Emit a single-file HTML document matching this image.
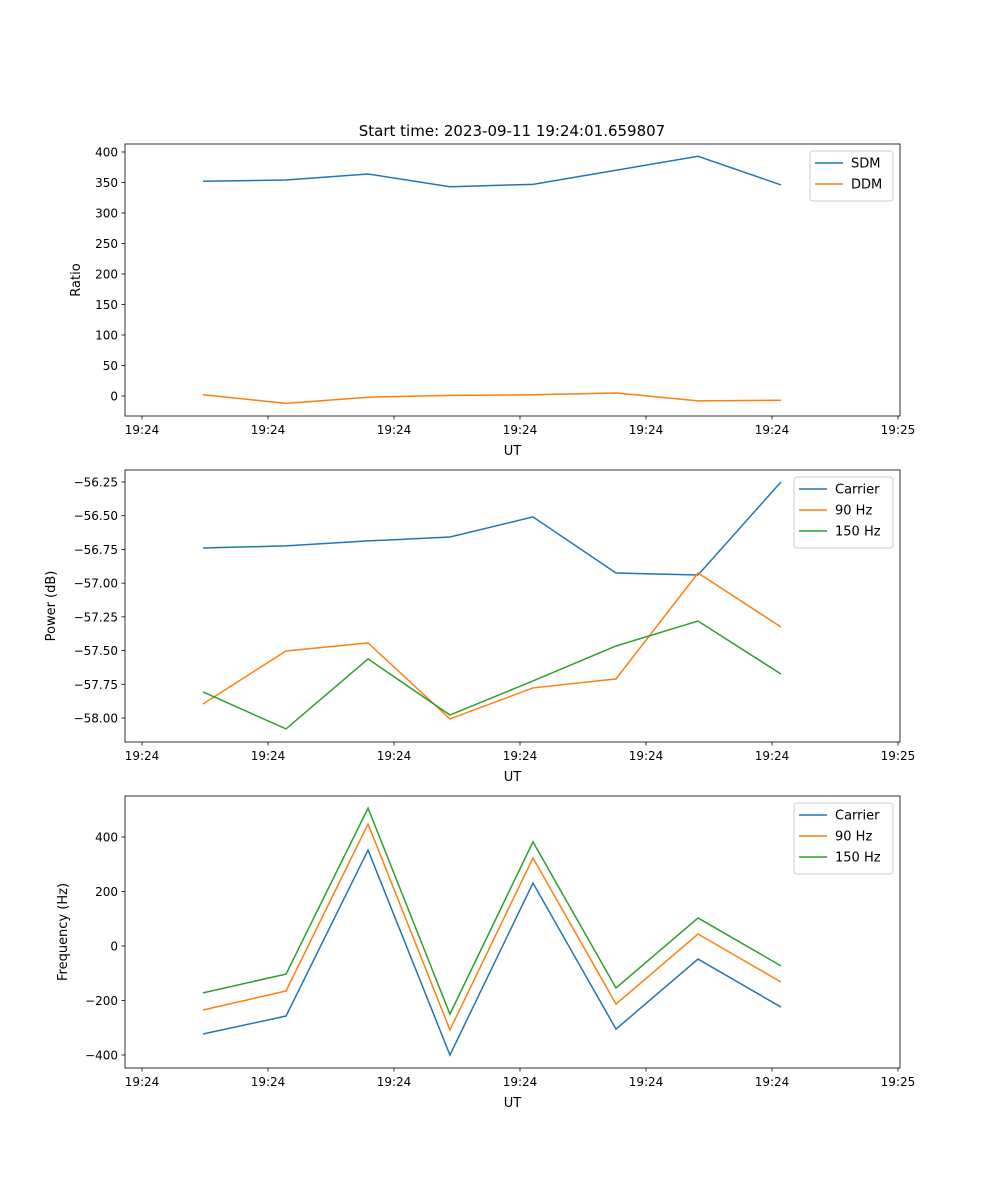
<!DOCTYPE html>
<html><head><meta charset="utf-8"><style>
body{margin:0;background:#fff}
svg{display:block;font-family:"DejaVu Sans","Liberation Sans",sans-serif}
</style></head><body>
<svg id="fig" width="1000" height="1200"></svg>
<script>
const times=[4.84,11.43,17.94,24.44,31.03,37.62,44.13,50.71];
const xTicks=[0,10,20,30,40,50,60];
const xTickLabels=["19:24","19:24","19:24","19:24","19:24","19:24","19:25"];
const sdm=[352,354,364,343,347,370,393,346];
const ddm=[2,-12,-2,1,2,5,-8,-7];
const pCarrier=[-56.739,-56.724,-56.687,-56.658,-56.509,-56.925,-56.940,-56.25];
const p90=[-57.896,-57.503,-57.443,-58.007,-57.777,-57.710,-56.925,-57.325];
const p150=[-57.807,-58.081,-57.562,-57.978,-57.725,-57.466,-57.281,-57.674];
const fCarrier=[-323,-257,352,-400,231,-305,-48,-224];
const f90=[-235,-165,448,-308,323,-213,44,-132];
const f150=[-172,-103,506,-250,382,-154,103,-73];
const ratioTicks=[0,50,100,150,200,250,300,350,400];
const powerTicks=[-58,-57.75,-57.5,-57.25,-57,-56.75,-56.5,-56.25];
const powerTickLabels=["−58.00","−57.75","−57.50","−57.25","−57.00","−56.75","−56.50","−56.25"];
const freqTicks=[-400,-200,0,200,400];
const freqTickLabels=["−400","−200","0","200","400"];

const NS="http://www.w3.org/2000/svg";
const svg=document.getElementById('fig');
function mk(tag,attrs,parent){const e=document.createElementNS(NS,tag);for(const k in attrs)e.setAttribute(k,attrs[k]);(parent||svg).appendChild(e);return e;}
const L=125,R=900,XD=[-1.35,60.16];
const xs=v=>L+(v-XD[0])/(XD[1]-XD[0])*(R-L);
const C=['#1f77b4','#ff7f0e','#2ca02c'];

function panel(name,top,bot,yd,yt,ytl,ylabel,series,labels,legW){
  const g=mk('g',{});
  
  
  const ys=v=>bot-(v-yd[0])/(yd[1]-yd[0])*(bot-top);
  series.forEach((s,i)=>{
    const p=mk('polyline',{points:times.map((t,j)=>xs(t)+','+ys(s[j])).join(' '),fill:'none',stroke:C[i],'stroke-width':1.5},g);
    
    
  });
  const fr=mk('rect',{x:L,y:top,width:R-L,height:bot-top,fill:'none',stroke:'#000','stroke-width':0.8},g);
  
  
  xTicks.forEach((t,i)=>{
    const x=xs(t);
    mk('line',{x1:x,x2:x,y1:bot,y2:bot+3.5,stroke:'#000','stroke-width':0.8},g);
    const tx=mk('text',{x:x,y:bot+18,'font-size':12,'text-anchor':'middle'},g);
    tx.textContent=xTickLabels[i];
    
    
  });
  const xl=mk('text',{x:(L+R)/2,y:bot+39,'font-size':13,'text-anchor':'middle'},g);
  xl.textContent='UT';
  
  
  yt.forEach((t,i)=>{
    const y=ys(t);
    mk('line',{x1:L-3.5,x2:L,y1:y,y2:y,stroke:'#000','stroke-width':0.8},g);
    const tx=mk('text',{x:L-7,y:y+4.5,'font-size':12,'text-anchor':'end'},g);
    tx.textContent=ytl[i];
    
    
  });
  const yl=mk('text',{x:0,y:0,'font-size':13,'text-anchor':'middle',transform:`translate(${ylabel[1]},${(top+bot)/2}) rotate(-90)`},g);
  yl.textContent=ylabel[0];
  
  
  const lg=mk('g',{},g);
  
  
  const lx=R-7-legW, ly=top+7;
  mk('rect',{x:lx,y:ly,width:legW,height:8+labels.length*21,fill:'#fff',stroke:'#ccc',rx:3},lg);
  labels.forEach((lab,i)=>{
    const yy=ly+12+i*21;
    mk('line',{x1:lx+5,x2:lx+33,y1:yy,y2:yy,stroke:C[i],'stroke-width':1.5},lg);
    const tx=mk('text',{x:lx+41,y:yy+4.5,'font-size':13},lg);
    tx.textContent=lab;
    
    
  });
}
const title=mk('text',{x:512,y:136,'font-size':15,'text-anchor':'middle'});
title.textContent='Start time: 2023-09-11 19:24:01.659807';


panel('ratio',144,416,[-32.8,413.1],ratioTicks,ratioTicks.map(String),['Ratio',80],[sdm,ddm],['SDM','DDM'],83);
panel('power',470,742,[-58.178,-56.161],powerTicks,powerTickLabels,['Power (dB)',55],[pCarrier,p90,p150],['Carrier','90 Hz','150 Hz'],99);
panel('frequency',796,1068,[-447.7,550.5],freqTicks,freqTickLabels,['Frequency (Hz)',67],[fCarrier,f90,f150],['Carrier','90 Hz','150 Hz'],99);
</script>
</body></html>
